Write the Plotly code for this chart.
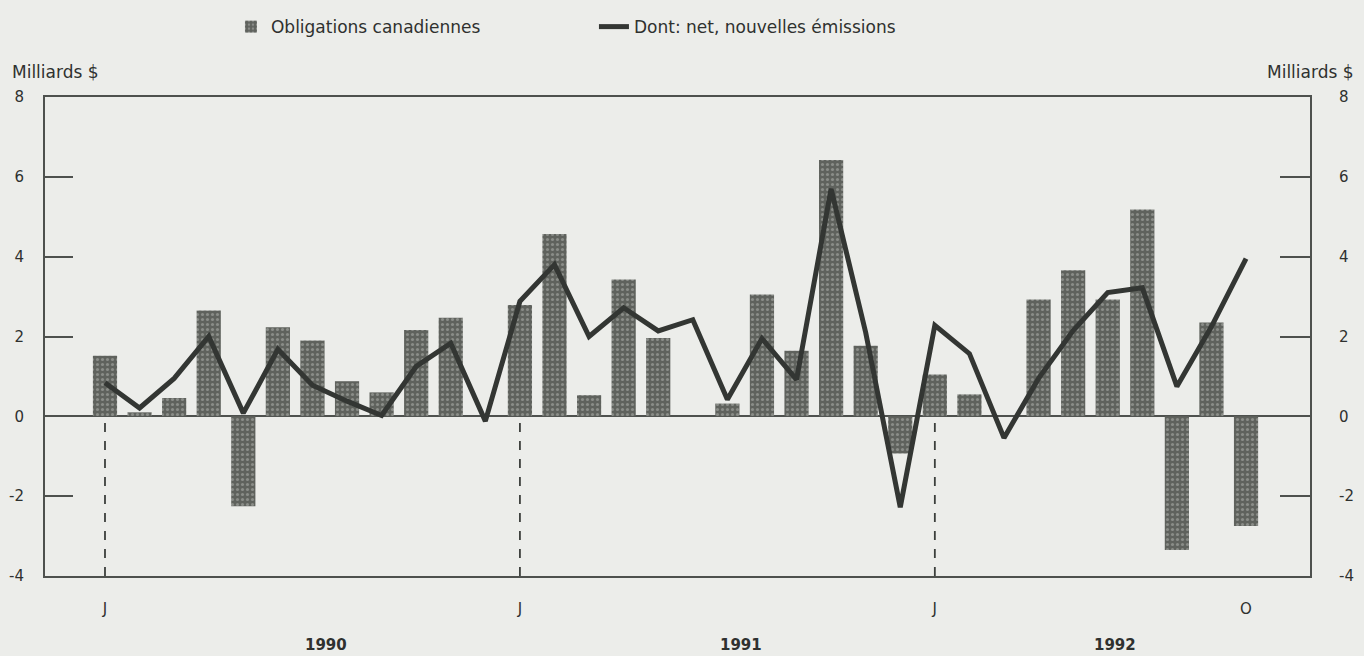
import plotly.graph_objects as go

months = [
    "1990-01", "1990-02", "1990-03", "1990-04", "1990-05", "1990-06",
    "1990-07", "1990-08", "1990-09", "1990-10", "1990-11", "1990-12",
    "1991-01", "1991-02", "1991-03", "1991-04", "1991-05", "1991-06",
    "1991-07", "1991-08", "1991-09", "1991-10", "1991-11", "1991-12",
    "1992-01", "1992-02", "1992-03", "1992-04", "1992-05", "1992-06",
    "1992-07", "1992-08", "1992-09", "1992-10",
]

obligations = [
    1.52, 0.10, 0.46, 2.65, -2.25, 2.23, 1.90, 0.88, 0.60, 2.16, 2.47, 0.00,
    2.79, 4.57, 0.53, 3.43, 1.96, 0.00, 0.32, 3.05, 1.64, 6.42, 1.77, -0.93,
    1.05, 0.55, 0.00, 2.93, 3.66, 2.93, 5.18, -3.35, 2.35, -2.75,
]

nouvelles_emissions = [
    0.84, 0.21, 0.95, 2.00, 0.08, 1.68, 0.78, 0.38, 0.02, 1.25, 1.83, -0.12,
    2.88, 3.80, 2.00, 2.72, 2.14, 2.42, 0.42, 1.95, 0.92, 5.70, 2.10, -2.28,
    2.28, 1.57, -0.54, 0.95, 2.15, 3.10, 3.22, 0.75, 2.25, 3.95,
]

tick_months = ["1990-01", "1991-01", "1992-01", "1992-10"]
tick_labels = ["J", "J", "J", "O"]
year_labels = ["1990", "1991", "1992"]
year_positions = [6.4, 18.4, 29.2]
year_starts = ["1990-01", "1991-01", "1992-01"]

y_ticks = [-4, -2, 0, 2, 4, 6, 8]
y_tick_text = ["-4", "-2", "0", "2", "4", "6", "8"]

FONT = "DejaVu Sans"
TXT = "#2f312f"
AX = "#4e514e"
BG = "#ecedea"

fig = go.Figure()

fig.add_trace(go.Bar(
    x=months, y=obligations, name="Obligations canadiennes",
    width=0.7,
    marker=dict(
        color="#5f625d",
        line=dict(width=0),
        pattern=dict(shape=".", fgcolor="#b6b8b3", size=5, solidity=0.3,
                     fillmode="overlay"),
    ),
))

fig.add_trace(go.Scatter(
    x=months, y=nouvelles_emissions, name="Dont: net, nouvelles émissions",
    mode="lines", line=dict(color="#333633", width=5),
))

# dashed year separators from zero down to the bottom
for m in year_starts:
    fig.add_shape(type="line", xref="x", yref="y", x0=m, x1=m, y0=-4, y1=0,
                  line=dict(color="#3c3f3c", width=1.8, dash="dash"))

for lab, pos in zip(year_labels, year_positions):
    fig.add_annotation(text="<b>" + lab + "</b>", xref="x", yref="paper",
                       x=pos, y=-0.144, showarrow=False, xanchor="center",
                       yanchor="middle", font=dict(family=FONT, size=15, color=TXT))

fig.add_annotation(text="Milliards $", xref="paper", yref="paper", x=-0.028, y=1.052,
                   xanchor="left", yanchor="middle", showarrow=False,
                   font=dict(family=FONT, size=17, color=TXT))
fig.add_annotation(text="Milliards $", xref="paper", yref="paper", x=1.036, y=1.052,
                   xanchor="right", yanchor="middle", showarrow=False,
                   font=dict(family=FONT, size=17, color=TXT))

fig.update_layout(
    width=1364, height=656,
    margin=dict(l=45, r=54, t=97, b=80, autoexpand=False),
    paper_bgcolor=BG, plot_bgcolor=BG,
    font=dict(family=FONT, size=15, color=TXT),
    bargap=0.3,
    showlegend=True,
    legend=dict(orientation="h", x=0.147, y=1.146, xanchor="left", yanchor="middle",
                bgcolor="rgba(0,0,0,0)", font=dict(family=FONT, size=17, color=TXT),
                entrywidth=318, entrywidthmode="pixels", traceorder="normal"),
    xaxis=dict(
        type="category", categoryorder="array", categoryarray=months,
        range=[-1.735, 34.85], automargin=False,
        tickvals=tick_months, ticktext=tick_labels, ticks="",
        ticklabelstandoff=18,
        showgrid=False, zeroline=False,
        showline=True, mirror=True, linecolor=AX, linewidth=2,
        tickfont=dict(family=FONT, size=15, color=TXT),
    ),
    yaxis=dict(
        range=[-4, 8], tickvals=y_ticks, ticktext=y_tick_text, automargin=False,
        ticks="inside", ticklen=28, tickwidth=2,
        tickcolor=AX, showgrid=False, zeroline=True, zerolinecolor=AX,
        zerolinewidth=2, showline=True, mirror=True, linecolor=AX, linewidth=2,
        ticklabelstandoff=16,
        tickfont=dict(family=FONT, size=15, color=TXT),
    ),
    yaxis2=dict(
        range=[-4, 8], tickvals=y_ticks, ticktext=y_tick_text, automargin=False,
        overlaying="y", side="right",
        ticks="inside", ticklen=30, tickwidth=2, tickcolor=AX,
        showgrid=False, zeroline=False, showline=True, linecolor=AX, linewidth=2,
        ticklabelstandoff=24,
        tickfont=dict(family=FONT, size=15, color=TXT),
    ),
)

# invisible trace to anchor the right-hand axis
fig.add_trace(go.Scatter(x=[months[0]], y=[0], yaxis="y2", mode="markers",
                         marker=dict(opacity=0), showlegend=False, hoverinfo="skip"))

fig.write_html(
    "out.html",
    config={"displayModeBar": False},
    post_script="document.body.style.margin='0';document.body.style.background='#ecedea';",
)
